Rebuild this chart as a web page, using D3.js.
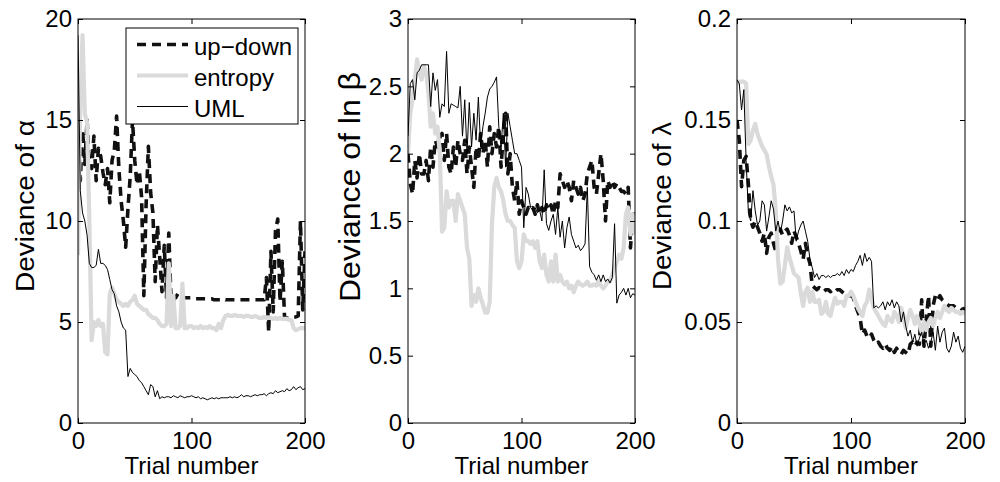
<!DOCTYPE html>
<html>
<head>
<meta charset="utf-8">
<script src="https://cdn.jsdelivr.net/npm/d3@7"></script>
<style>
  body { margin: 0; background: #fff; }
  svg { display: block; font-family: "Liberation Sans", Arial, Helvetica, sans-serif; }
</style>
</head>
<body>
<script>
// trials are sampled every 2nd trial, 0..200
const trials = d3.range(0, 201, 2);
const trialTicks = [0, 100, 200];
const seriesNames = ['up\u2212down', 'entropy', 'UML'];

// panel 1: deviance of alpha
const alphaTicks = [0, 5, 10, 15, 20];
const alphaUpDown = [
  14.5, 12.0, 14.5, 12.8, 15.0, 12.7, 12.6, 14.2, 12.0, 13.6,
  13.2, 12.4, 11.8, 12.6, 10.9, 13.0, 13.5, 15.2, 12.6, 11.0,
  10.0, 8.7, 10.6, 12.2, 15.0, 13.0, 11.8, 12.5, 11.2, 6.3,
  10.8, 13.7, 11.4, 10.4, 7.0, 9.8, 8.2, 6.5, 8.8, 6.2,
  9.4, 6.0, 6.1, 6.2, 6.4, 6.2, 6.2, 6.2, 6.2, 6.2,
  6.2, 6.2, 6.15, 6.15, 6.15, 6.15, 6.15, 6.15, 6.15, 6.15,
  6.1, 6.1, 6.1, 6.1, 6.15, 6.1, 6.1, 6.1, 6.1, 6.1,
  6.1, 6.1, 6.1, 6.1, 6.1, 6.1, 6.1, 6.1, 6.1, 6.1,
  6.1, 6.1, 6.1, 7.2, 4.5, 8.5, 5.5, 9.5, 10.1, 6.0,
  8.0, 5.2, 5.2, 5.2, 5.25, 5.25, 5.25, 5.3, 10.0, 5.6,
  8.5
];
const alphaEntropy = [
  8.3, 16.0, 19.2, 15.3, 14.9, 10.0, 4.1, 5.0, 4.8, 5.1,
  4.8, 4.9, 3.5, 3.4, 6.4, 6.7, 6.4, 6.1, 6.0, 5.9,
  5.8, 5.9, 5.8, 6.0, 6.1, 6.3, 5.9, 5.8, 5.7, 5.6,
  5.6, 5.4, 5.3, 5.2, 5.2, 5.1, 4.9, 4.8, 4.8, 4.9,
  7.9, 4.8, 6.3, 4.7, 4.7, 4.8, 6.9, 4.7, 4.7, 4.8,
  4.8, 4.7, 4.75, 4.7, 4.8, 4.7, 4.75, 4.7, 4.8, 4.7,
  4.7, 4.6, 4.9, 4.7, 5.1, 5.3, 5.35, 5.3, 5.3, 5.35,
  5.3, 5.3, 5.3, 5.25, 5.3, 5.3, 5.25, 5.25, 5.3, 5.25,
  5.2, 5.2, 5.25, 5.2, 5.2, 5.2, 5.15, 5.2, 5.15, 5.2,
  5.15, 5.15, 5.15, 5.1, 5.1, 4.7, 4.6, 4.65, 4.7, 4.7,
  4.7
];
const alphaUML = [
  19.2, 11.5, 10.4, 10.0, 9.3, 7.9, 7.7, 7.7, 7.8, 8.6,
  7.9, 7.9, 7.8, 7.6, 7.1, 6.6, 6.4, 5.8, 5.5, 5.0,
  4.7, 4.6, 2.3, 2.7, 2.5, 2.4, 2.3, 2.1, 2.0, 1.8,
  1.6, 1.4, 1.9, 1.8, 1.3, 1.6, 1.2, 1.3, 1.25, 1.3,
  1.3, 1.25, 1.35, 1.3, 1.25, 1.35, 1.3, 1.25, 1.3, 1.3,
  1.35, 1.3, 1.25, 1.3, 1.2, 1.25, 1.2, 1.15, 1.2, 1.25,
  1.2, 1.25, 1.2, 1.25, 1.25, 1.25, 1.25, 1.3, 1.25, 1.3,
  1.25, 1.3, 1.4, 1.3, 1.35, 1.35, 1.3, 1.35, 1.4, 1.35,
  1.4, 1.4, 1.45, 1.35, 1.45, 1.5, 1.45, 1.6, 1.5, 1.55,
  1.6, 1.55, 1.7, 1.6, 1.65, 1.8, 1.65, 1.75, 1.8, 1.65,
  1.7
];

// panel 2: deviance of ln beta
const betaTicks = [0, 0.5, 1, 1.5, 2, 2.5, 3];
const betaUpDown = [
  2.0, 1.78, 1.7, 1.95, 1.82, 2.0, 1.85, 1.85, 1.95, 1.8,
  2.05, 1.9, 2.1, 2.05, 2.12, 2.15, 1.95, 2.15, 1.9, 1.85,
  2.05, 1.9, 2.1, 2.0, 1.95, 2.1, 1.85, 2.05, 1.9, 1.75,
  2.05, 1.95, 2.15, 2.0, 2.1, 1.9, 2.2, 2.0, 2.15, 2.05,
  2.2, 1.9, 2.15, 2.3, 1.85, 2.0, 1.75, 1.65, 1.8, 1.55,
  1.65, 1.6, 1.55, 1.6, 1.58, 1.6, 1.55, 1.62, 1.55, 1.6,
  1.55, 1.62, 1.58, 1.62, 1.55, 1.65, 1.6, 1.85, 1.8, 1.75,
  1.8, 1.75, 1.65, 1.8, 1.75, 1.7, 1.75, 1.65, 1.7, 1.85,
  1.9, 1.95, 1.75, 1.7, 1.85, 2.0, 1.8, 1.5, 1.8, 1.75,
  1.8, 1.75, 1.78, 1.75, 1.72, 1.72, 1.7, 1.75, 1.3, 1.55,
  1.55
];
const betaEntropy = [
  2.0, 2.3, 2.4, 2.55, 2.7, 2.6, 2.55, 2.65, 2.6, 2.45,
  2.2, 2.3, 2.15, 2.2, 2.0, 1.42, 1.45, 1.72, 1.6, 1.65,
  1.65, 1.5, 1.7, 1.65, 1.6, 1.55, 1.3, 1.22, 0.87, 0.95,
  0.9, 1.0, 0.93, 0.88, 0.82, 0.82, 0.9, 1.48, 1.75, 1.82,
  1.75, 1.72, 1.65, 1.55, 1.5, 1.5, 1.47, 1.45, 1.2, 1.15,
  1.2, 1.4, 1.35, 1.35, 1.33, 1.35, 1.3, 1.35, 1.2, 1.15,
  1.25, 1.1, 1.05, 1.2, 1.05, 1.25, 1.05, 1.1, 1.05, 1.03,
  1.05, 1.0, 1.02, 0.97, 1.02, 1.05, 1.03, 1.02, 1.03, 1.05,
  1.02, 1.02, 1.03, 1.02, 1.05, 1.02, 1.0, 1.02, 1.05, 1.05,
  1.1, 1.15, 1.2, 1.25, 1.22, 1.3, 1.55, 1.6, 1.4, 1.55,
  1.4
];
const betaUML = [
  2.13, 2.52, 2.55, 2.4, 2.6, 2.62, 2.66, 2.66, 2.66, 2.66,
  2.35, 2.6, 2.47, 2.55, 2.27, 2.37, 2.35, 2.76, 2.3, 2.37,
  2.36, 2.35, 2.34, 2.5, 2.13, 2.4, 2.0, 2.38, 2.05, 2.3,
  2.1, 2.42, 2.05, 2.2, 2.3, 2.42, 2.48, 2.5, 2.53, 2.57,
  2.2, 2.05, 2.3, 1.9, 2.3, 2.2, 2.1, 2.0, 2.0, 1.95,
  1.9, 1.45, 1.75, 1.7, 1.6, 1.58, 1.6, 1.56, 1.58, 1.5,
  1.88, 1.48, 1.43, 1.5, 1.55, 1.4, 1.6, 1.38, 1.5, 1.3,
  1.45, 1.53, 1.4, 1.35, 1.3, 1.32, 1.28, 1.3, 1.33, 1.75,
  1.16, 1.12, 1.1, 1.06, 1.1, 1.05, 1.1, 1.05, 1.07, 1.04,
  1.08, 1.48, 0.89, 0.95, 0.97, 1.0, 0.95, 1.0, 0.93, 0.96,
  0.95
];

// panel 3: deviance of lambda
const lambdaTicks = [0, 0.05, 0.1, 0.15, 0.2];
const lambdaUpDown = [
  0.15, 0.14, 0.117, 0.13, 0.132, 0.118, 0.1, 0.097, 0.1, 0.097,
  0.094, 0.09, 0.094, 0.084, 0.092, 0.094, 0.089, 0.085, 0.094, 0.096,
  0.093, 0.095, 0.096, 0.093, 0.089, 0.095, 0.092, 0.089, 0.085, 0.081,
  0.089, 0.083, 0.079, 0.068, 0.067, 0.066, 0.067, 0.066, 0.065, 0.066,
  0.066, 0.065, 0.066, 0.065, 0.066, 0.066, 0.065, 0.064, 0.064, 0.063,
  0.063, 0.062, 0.058, 0.055, 0.052, 0.044, 0.046, 0.043, 0.042, 0.044,
  0.041, 0.039, 0.04, 0.038, 0.037, 0.039, 0.037, 0.036, 0.038, 0.035,
  0.037, 0.035, 0.034, 0.036, 0.035, 0.034, 0.039, 0.04, 0.038, 0.04,
  0.039, 0.061, 0.038, 0.051, 0.063, 0.038, 0.058, 0.063, 0.061, 0.063,
  0.061, 0.06, 0.059, 0.058, 0.058, 0.058, 0.057, 0.057, 0.057, 0.056,
  0.057
];
const lambdaEntropy = [
  0.168, 0.169, 0.169, 0.169, 0.168, 0.138, 0.14, 0.145, 0.148, 0.143,
  0.14, 0.137, 0.135, 0.133, 0.127, 0.122, 0.118, 0.105, 0.081, 0.069,
  0.07, 0.078, 0.087, 0.082, 0.078, 0.074, 0.073, 0.072, 0.064, 0.058,
  0.065, 0.067, 0.06, 0.065, 0.06, 0.06, 0.061, 0.054, 0.055, 0.06,
  0.054, 0.053, 0.058, 0.062, 0.059, 0.06, 0.06, 0.058, 0.063, 0.063,
  0.065, 0.063, 0.06, 0.057, 0.055, 0.053, 0.058, 0.06, 0.066, 0.062,
  0.057, 0.055, 0.053, 0.051, 0.049, 0.048, 0.053, 0.051, 0.05, 0.055,
  0.053, 0.05, 0.057, 0.053, 0.047, 0.052, 0.056, 0.053, 0.049, 0.053,
  0.049, 0.045, 0.05, 0.046, 0.05, 0.052, 0.048, 0.052, 0.055, 0.052,
  0.055, 0.058, 0.056, 0.055, 0.057, 0.056, 0.055, 0.055, 0.054, 0.055,
  0.054
];
const lambdaUML = [
  0.17, 0.168, 0.155, 0.165, 0.13, 0.104, 0.1, 0.115, 0.105, 0.098,
  0.1, 0.11, 0.108, 0.095, 0.102, 0.11, 0.106, 0.095, 0.1, 0.094,
  0.1, 0.108, 0.105, 0.107, 0.104, 0.105, 0.09, 0.095, 0.098, 0.1,
  0.095, 0.09, 0.081, 0.077, 0.072, 0.074, 0.071, 0.073, 0.073, 0.072,
  0.073, 0.072, 0.073, 0.073, 0.074, 0.073, 0.075, 0.073, 0.076, 0.074,
  0.076, 0.075, 0.078, 0.08, 0.083, 0.078, 0.084, 0.08, 0.082, 0.08,
  0.057, 0.058, 0.057, 0.058, 0.06, 0.056, 0.06, 0.058, 0.061, 0.057,
  0.06, 0.058, 0.05, 0.055, 0.048, 0.043, 0.046, 0.04, 0.044, 0.038,
  0.042, 0.045, 0.039, 0.041, 0.037, 0.04, 0.045, 0.036, 0.048, 0.04,
  0.045, 0.047, 0.037, 0.035, 0.038, 0.045, 0.04, 0.043, 0.037, 0.035,
  0.038
];

const W = 1000, H = 482;
const plotTop = 19, plotBottom = 423;
const lineStyles = [
  { stroke: '#111', width: 3.6, dash: '9,6' },
  { stroke: '#dadada', width: 4.2, dash: null },
  { stroke: '#000', width: 1, dash: null }
];

const panels = [
  { left: 78, right: 305, yMax: 20, ticks: alphaTicks, label: 'Deviance of \u03b1',
    labelX: 34, labelY: 206, labelLen: 172, labelSize: 25.5,
    series: [alphaUpDown, alphaEntropy, alphaUML], legend: true },
  { left: 408, right: 635, yMax: 3, ticks: betaTicks, label: 'Deviance of ln \u03b2',
    labelX: 360, labelY: 187, labelLen: 230, labelSize: 30,
    series: [betaUpDown, betaEntropy, betaUML], legend: false },
  { left: 737, right: 965, yMax: 0.2, ticks: lambdaTicks, label: 'Deviance of \u03bb',
    labelX: 671, labelY: 206, labelLen: 168, labelSize: 25.5,
    series: [lambdaUpDown, lambdaEntropy, lambdaUML], legend: false }
];

const svg = d3.select('body').append('svg')
  .attr('width', W)
  .attr('height', H);

svg.append('rect').attr('width', W).attr('height', H).attr('fill', '#fff');

const fmt = d3.format('~g');

panels.forEach((p, pi) => {
  const x = d3.scaleLinear().domain([0, 200]).range([p.left, p.right]);
  const y = d3.scaleLinear().domain([0, p.yMax]).range([plotBottom, plotTop]);
  const g = svg.append('g');

  svg.append('clipPath').attr('id', 'clip' + pi)
    .append('rect')
    .attr('x', p.left).attr('y', plotTop)
    .attr('width', p.right - p.left).attr('height', plotBottom - plotTop);

  // lines, drawn in legend order
  const line = d3.line().x((d, i) => x(trials[i])).y(d => y(d));
  const lines = g.append('g').attr('clip-path', `url(#clip${pi})`);
  p.series.forEach((s, si) => {
    const st = lineStyles[si];
    lines.append('path')
      .datum(s)
      .attr('d', line)
      .attr('fill', 'none')
      .attr('stroke', st.stroke)
      .attr('stroke-width', st.width)
      .attr('stroke-linejoin', 'round')
      .attr('stroke-dasharray', st.dash);
  });

  // axes with inward ticks on all four sides
  const axes = [
    g.append('g').attr('transform', `translate(0,${plotBottom})`)
      .call(d3.axisBottom(x).tickValues(trialTicks).tickSizeInner(-5).tickSizeOuter(0).tickPadding(9)),
    g.append('g').attr('transform', `translate(${p.left},0)`)
      .call(d3.axisLeft(y).tickValues(p.ticks).tickFormat(fmt).tickSizeInner(-5).tickSizeOuter(0).tickPadding(6)),
    g.append('g').attr('transform', `translate(0,${plotTop})`)
      .call(d3.axisTop(x).tickValues(trialTicks).tickFormat('').tickSizeInner(-5).tickSizeOuter(0)),
    g.append('g').attr('transform', `translate(${p.right},0)`)
      .call(d3.axisRight(y).tickValues(p.ticks).tickFormat('').tickSizeInner(-5).tickSizeOuter(0))
  ];
  axes.forEach(a => {
    a.select('.domain').remove();
    a.selectAll('line').attr('stroke', '#000');
    a.selectAll('text')
      .attr('fill', '#000')
      .style('font-size', '24px')
      .style('font-family', '"Liberation Sans", Arial, sans-serif');
  });

  // frame
  g.append('rect')
    .attr('x', p.left).attr('y', plotTop)
    .attr('width', p.right - p.left).attr('height', plotBottom - plotTop)
    .attr('fill', 'none').attr('stroke', '#000').attr('stroke-width', 1);

  // axis titles
  g.append('text')
    .attr('x', (p.left + p.right) / 2)
    .attr('y', 474)
    .attr('text-anchor', 'middle')
    .style('font-size', '24px')
    .text('Trial number');

  g.append('text')
    .attr('transform', `translate(${p.labelX},${p.labelY}) rotate(-90)`)
    .attr('text-anchor', 'middle')
    .attr('textLength', p.labelLen)
    .attr('lengthAdjust', 'spacingAndGlyphs')
    .style('font-size', p.labelSize + 'px')
    .text(p.label);

  if (p.legend) {
    const lg = g.append('g');
    lg.append('rect')
      .attr('x', 126).attr('y', 28)
      .attr('width', 172).attr('height', 96)
      .attr('fill', '#fff').attr('stroke', '#000').attr('stroke-width', 1);
    seriesNames.forEach((name, si) => {
      const st = lineStyles[si];
      const ly = 44.5 + si * 31;
      lg.append('line')
        .attr('x1', 137).attr('x2', 188)
        .attr('y1', ly).attr('y2', ly)
        .attr('stroke', st.stroke)
        .attr('stroke-width', st.width)
        .attr('stroke-dasharray', st.dash);
      lg.append('text')
        .attr('x', 194).attr('y', ly + 10.5)
        .style('font-size', '24px')
        .text(name);
    });
  }
});
</script>
</body>
</html>
